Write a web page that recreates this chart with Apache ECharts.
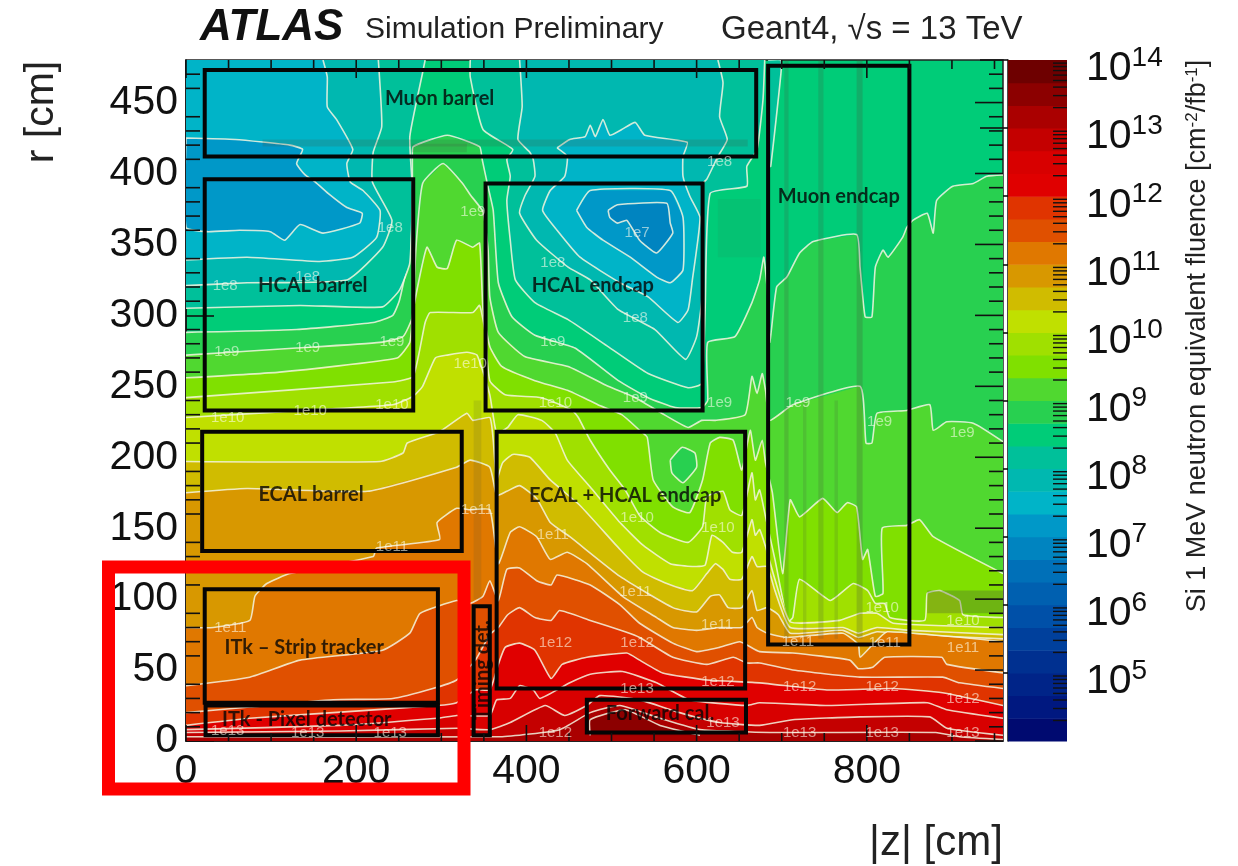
<!DOCTYPE html>
<html>
<head>
<meta charset="utf-8">
<style>html,body{margin:0;padding:0;background:#fff}#chart{width:1238px;height:866px}</style>
<script src="https://cdn.jsdelivr.net/npm/echarts@6/dist/echarts.min.js"></script>
</head>
<body>
<div id="chart"></div>
<script>
// ---------- axis values ----------
const zMajorTicks = [0, 200, 400, 600, 800];
const zMinorTicks = [50, 100, 150, 250, 300, 350, 450, 500, 550, 650, 700, 750, 850, 900, 950];
const rMajorTicks = [0, 50, 100, 150, 200, 250, 300, 350, 400, 450];
const rMinorTicks = [10,20,30,40,60,70,80,90,110,120,130,140,160,170,180,190,210,220,230,240,260,270,280,290,310,320,330,340,360,370,380,390,410,420,430,440,460,470];
const fluenceDecades = [1e5,1e6,1e7,1e8,1e9,1e10,1e11,1e12,1e13,1e14];
const fluenceMinorFactors = [2,3,4,5,6,7,8,9];

// ---------- colour scale: 3 bands per decade from 1e4 to 1e14 ----------
const bandColors = ['#000a70','#001880','#002488','#003090','#00409c','#0050a8','#0060b0','#0070b8','#0084c0','#0098c8',
  '#00b4c8','#00b8b0','#00c09a','#00cc78','#28d050','#50d830','#80e000','#a0e000','#c0e000','#d0bc00',
  '#d89800','#e07800','#e05000','#e03400','#e00000','#d80000','#c40000','#aa0000','#8c0000','#6e0000'];

// ---------- fluence contours [|z|, r] : regions at or above the level ----------
const c8_67 = [[0,288],[130,290],[220,295],[243,300],[251,311],[263,346],[266,388],[266,410],[267,419],[307,427],[345,419],[348,410],[354,393],[361,374],[367,323],[383,299],[410,286],[457,277],[508,254],[543,242],[575,235],[606,235],[613,240],[613,281],[645,285],[665,309],[674,325],[679,341],[684,311],[686,281],[694,320],[706,327],[721,344],[737,352],[788,357],[792,334],[798,299],[806,299],[810,334],[819,346],[825,341],[842,355],[847,362],[854,367],[871,372],[878,358],[882,381],[901,391],[925,393],[941,398],[960,399]];
const c9_00 = [[0,272],[130,277],[228,281],[255,285],[266,299],[270,346],[278,393],[302,407],[325,393],[334,385],[349,373],[355,346],[357,313],[367,288],[398,271],[449,264],[496,250],[528,242],[559,231],[590,221],[606,226],[622,226],[657,230],[665,257],[671,245],[677,259],[681,247],[686,226],[713,237],[792,250],[799,210],[806,210],[812,231],[847,233],[874,237],[878,219],[894,225],[925,224],[960,211]];
const c9_33 = [[0,256],[110,260],[248,270],[263,281],[267,304],[283,348],[295,334],[307,333],[318,353],[337,348],[345,351],[349,304],[357,278],[371,264],[410,254],[449,247],[484,237],[512,230],[533,219],[542,214],[549,184],[572,165],[592,161],[607,184],[616,210],[627,214],[643,212],[653,191],[663,219],[669,198],[677,212],[681,196],[689,175],[701,118],[710,170],[721,158],[748,171],[765,161],[777,168],[788,165],[795,128],[801,135],[810,102],[819,104],[818,150],[847,152],[862,156],[878,144],[960,118]];
const c9_67 = [[0,242],[243,253],[267,257],[281,295],[287,302],[337,302],[345,307],[351,290],[357,254],[375,244],[418,242],[454,233],[461,228],[475,212],[498,191],[516,177],[533,159],[557,147],[590,140],[607,151],[612,172],[631,176],[639,163],[653,159],[665,189],[669,170],[674,177],[681,158],[692,128],[707,84],[713,87],[721,114],[757,99],[784,111],[801,106],[810,97],[821,97],[827,87],[868,85],[871,104],[886,106],[909,99],[913,89],[960,87]];
const c10_00 = [[0,228],[110,232],[243,237],[267,243],[278,250],[293,270],[307,272],[330,274],[342,272],[357,244],[365,217],[378,221],[390,230],[418,226],[434,217],[448,198],[475,179],[510,154],[537,138],[569,125],[595,123],[610,124],[618,145],[631,140],[642,133],[653,133],[665,156],[669,145],[674,149],[681,137],[692,114],[710,84],[768,85],[792,90],[812,90],[831,83],[960,80]];
const c10_33 = [[0,197],[228,197],[255,203],[260,210],[298,218],[330,231],[337,226],[357,228],[361,212],[365,184],[372,196],[384,202],[404,200],[428,184],[463,166],[510,135],[537,119],[565,111],[595,106],[612,118],[622,125],[631,121],[639,114],[653,114],[665,130],[671,123],[683,123],[692,106],[710,80],[772,80],[790,76],[812,80],[851,78],[960,75]];
const c10_67 = [[0,175],[72,178],[213,176],[318,193],[334,198],[357,193],[365,173],[377,176],[392,180],[412,171],[428,154],[451,144],[510,116],[572,94],[600,91],[616,102],[627,103],[637,94],[653,94],[665,106],[671,92],[683,94],[696,89],[710,76],[772,78],[790,73],[812,77],[851,75],[960,72]];
const c11_00 = [[0,80],[32,80],[75,85],[81,102],[95,111],[122,118],[220,130],[224,136],[298,142],[295,154],[318,164],[334,163],[357,163],[367,125],[381,147],[392,151],[412,144],[428,128],[448,133],[471,125],[513,102],[553,87],[572,80],[600,78],[627,80],[653,80],[665,87],[671,80],[683,76],[706,73],[772,76],[790,68],[792,59],[807,68],[824,77],[960,70]];
const c11_33 = [[0,39],[75,45],[134,57],[231,64],[263,76],[275,90],[318,99],[334,97],[349,102],[357,113],[367,99],[377,121],[392,122],[412,113],[429,110],[436,117],[475,110],[510,96],[533,83],[572,69],[600,63],[627,66],[651,70],[674,63],[713,62],[780,57],[790,51],[807,52],[821,59],[888,59],[894,54],[960,48]];
const c11_67 = [[0,20],[75,24],[173,29],[243,30],[290,37],[318,43],[340,57],[357,75],[367,80],[378,89],[392,94],[410,87],[429,85],[439,92],[475,85],[516,77],[533,73],[572,59],[612,54],[643,59],[659,55],[674,55],[713,50],[792,45],[889,45],[909,41],[960,37]];
const c12_00 = [[0,11],[75,16],[173,20],[295,25],[318,27],[340,36],[357,36],[367,54],[375,66],[392,69],[410,64],[429,44],[442,54],[471,59],[518,62],[533,57],[560,48],[612,43],[674,41],[753,36],[831,37],[889,34],[960,25]];
const c12_33 = [[0,8],[181,11],[295,16],[318,18],[357,18],[365,29],[381,30],[392,39],[408,36],[416,30],[451,41],[475,47],[513,49],[553,41],[592,29],[659,25],[674,27],[753,25],[871,27],[894,22],[960,16]];
const c12_67 = [[0,6],[181,7],[318,9],[357,8],[381,13],[422,25],[445,18],[471,25],[486,32],[533,29],[580,20],[627,13],[674,11],[713,15],[792,17],[874,17],[894,9],[960,4]];
const c13_00 = [[0,3],[369,3],[439,8],[475,20],[510,25],[557,16],[604,8],[686,6],[881,6],[909,3],[960,1]];
const c13_33 = [[475,4],[475,15],[516,22],[557,11],[604,4]];

// ---------- fluence contours [|z|, r] : regions at or below the level ----------
const low8_33a = [[281,480],[278,471],[263,426],[266,388],[263,337],[251,318],[231,306],[134,307],[0,305]];
const low8_33b = [[334,480],[334,468],[349,431],[384,417],[377,410],[381,398],[377,381],[381,353],[387,325],[410,309],[449,297],[496,278],[543,259],[590,249],[606,252],[610,304],[616,386],[659,391],[659,405],[671,417],[678,452],[680,480]];
const low8_33c = [[684,405],[687,405],[699,470],[699,480],[684,480]];
const low8_00a = [[226,480],[230,433],[220,415],[219,394],[242,367],[231,348],[189,325],[72,323],[0,321]];
const low8_00b = [[392,480],[395,447],[390,424],[404,415],[408,410],[410,398],[398,384],[392,372],[412,353],[449,334],[475,325],[508,304],[551,290],[587,269],[600,285],[606,311],[607,393],[612,396],[625,412],[636,424],[627,440],[631,464],[625,480]];
const low7_67a = [[161,480],[166,468],[166,447],[177,438],[196,417],[189,407],[193,394],[208,388],[228,374],[224,355],[196,341],[157,338],[72,341],[0,339]];
const low7_67b = [[436,418],[451,424],[469,426],[475,434],[481,426],[490,438],[498,427],[512,431],[528,436],[539,427],[589,422],[584,412],[584,398],[592,384],[604,369],[595,325],[590,304],[578,295],[543,313],[510,323],[463,341],[436,360],[419,374],[428,388],[445,398],[448,412]];
const low7_33a = [[0,425],[58,424],[122,420],[137,417],[130,407],[140,399],[152,394],[167,386],[189,376],[207,372],[204,365],[161,358],[134,364],[116,353],[99,359],[63,360],[25,359],[0,362]];
const low7_33b = [[459,374],[475,388],[569,388],[584,369],[584,332],[569,323],[553,327],[522,341],[490,353],[471,362]];
const low7_00 = [[496,374],[507,378],[565,379],[569,365],[572,358],[553,344],[533,353],[518,367],[507,365],[498,369]];
const low9_00 = [[569,198],[583,207],[598,203],[600,193],[584,182],[571,189]];

// ---------- material shadows [z0, r0, z1, r1, strength] ----------
const shadeBands = [[703,72,708,480,0.2],[743,72,749,480,0.2],[788,72,795,480,0.24],[90,419,660,424,0.2],[338,100,347,240,0.14],[265,415,330,421,0.18],
  [725,72,729,240,0.16],[762,72,766,240,0.16],[871,90,960,106,0.3],[625,341,675,382,0.08]];

// ---------- detector boxes [z0, r0, z1, r1] ----------
const muonBarrelBox = [22,412,670,473];
const hcalBarrelBox = [22,233,267,396];
const hcalEndcapBox = [352,233,607,393];
const muonEndcapBox = [684,68,850,476];
const ecalBarrelBox = [19,134,324,218];
const ecalEndcapBox = [365,37,657,218];
const stripBox = [22,27,296,107];
const pixelBox = [23,4,296,25];
const timingBox = [338,4,357,95];
const forwardBox = [471,6,658,29];

// ---------- text on the plot ----------
const boxNames = [['Muon barrel',298,453],['HCAL barrel',149,321],['HCAL endcap',478,321],['Muon endcap',767,384],['ECAL barrel',147,174],['ECAL + HCAL endcap',516,173],['ITk – Strip tracker',139,66],['ITk - Pixel detector',142,15],['Forward cal.',557,19]];
const timingName = ['Timing det.',349,50];
const contourLabels = [['1e8',46,321],['1e8',240,362],['1e8',143,327],['1e9',337,373],['1e9',48,274],['1e9',143,277],['1e9',242,281],['1e10',49,228],['1e10',146,233],['1e10',242,237],['1e10',334,266],['1e7',530,358],['1e8',431,337],['1e8',528,298],['1e8',627,408],['1e9',431,281],['1e9',528,242],['1e9',627,238],['1e10',434,238],['1e9',719,238],['1e9',815,225],['1e9',912,217],['1e10',530,157],['1e10',625,150],['1e11',242,137],['1e11',342,163],['1e11',52,80],['1e11',431,145],['1e11',528,105],['1e11',624,82],['1e12',434,69],['1e12',530,69],['1e12',625,42],['1e13',530,37],['1e12',434,6],['1e10',818,94],['1e10',913,85],['1e11',719,70],['1e11',821,69],['1e11',913,66],['1e12',721,38],['1e12',818,38],['1e12',913,30],['1e13',721,6],['1e13',818,6],['1e13',913,6],['1e13',631,13],['1e13',49,7],['1e13',143,6],['1e13',240,6]];

// ---------- assembling ----------
const Z_MAX = 960, R_MAX = 480;
const highStack = [[c8_67,14],[c9_00,15],[c9_33,16],[c9_67,17],[c10_00,18],[c10_33,19],[c10_67,20],[c11_00,21],[c11_33,22],[c11_67,23],[c12_00,24],[c12_33,25],[c12_67,26],[c13_00,27],[c13_33,28]];
const lowStack = [
  {pts:low8_33a,band:12,corner:[[0,R_MAX]]},{pts:low8_33b,band:12,corner:[]},{pts:low8_33c,band:12,corner:[]},
  {pts:low8_00a,band:11,corner:[[0,R_MAX]]},{pts:low8_00b,band:11,corner:[]},
  {pts:low7_67a,band:10,corner:[[0,R_MAX]]},{pts:low7_67b,band:10,corner:[],closed:true},
  {pts:low7_33a,band:9,corner:[],closed:true},{pts:low7_33b,band:9,corner:[],closed:true},
  {pts:low7_00,band:8,corner:[],closed:true},{pts:low9_00,band:14,corner:[],closed:true}
];
const regions = highStack.map(function (h) {
  const p = h[0];
  return {pts:p, band:h[1], corner:[[Z_MAX,0],[p===c13_33?475:0,0]]};
}).concat(lowStack);

const WHITE = 'rgba(245,245,225,0.85)';
function regionItem(params, api) {
  const reg = regions[params.dataIndex];
  const line = reg.pts.map(function (p) { return api.coord(p); });
  let fill = line.concat(reg.corner.map(function (p) { return api.coord(p); }));
  if (reg.pts === c13_33) fill = line;
  const kids = [{type:'polygon', shape:{points:fill}, style:{fill:bandColors[reg.band], stroke:null}}];
  kids.push({type:'polyline', shape:{points:reg.closed ? line.concat([line[0]]) : line, smooth:0.15},
    style:{fill:null, stroke:WHITE, lineWidth:1.6}});
  return {type:'group', children:kids};
}
function rectOf(api, b) {
  const a = api.coord([b[0], b[3]]), c = api.coord([b[2], b[1]]);
  return {x:a[0], y:a[1], width:c[0]-a[0], height:c[1]-a[1]};
}
const boxes = [muonBarrelBox,hcalBarrelBox,hcalEndcapBox,muonEndcapBox,ecalBarrelBox,ecalEndcapBox,stripBox,pixelBox,timingBox,forwardBox];

const tickList = [];
zMajorTicks.forEach(function (v) { tickList.push(['b',v,16],['t',v,18]); });
zMinorTicks.forEach(function (v) { tickList.push(['b',v,8],['t',v,9]); });
rMajorTicks.forEach(function (v) { tickList.push(['r',v,28]); });
rMinorTicks.forEach(function (v) { tickList.push(['l',v,14],['r',v,14]); });
function tickItem(params, api) {
  const t = tickList[params.dataIndex];
  let p, q;
  if (t[0] === 'b') { p = api.coord([t[1],0]); q = [p[0], p[1]-t[2]]; }
  if (t[0] === 't') { p = api.coord([t[1],R_MAX]); q = [p[0], p[1]+t[2]]; }
  if (t[0] === 'l') { p = api.coord([0,t[1]]); q = [p[0]+t[2], p[1]]; }
  if (t[0] === 'r') { p = api.coord([Z_MAX,t[1]]); q = [p[0]-t[2], p[1]]; }
  return {type:'line', shape:{x1:p[0],y1:p[1],x2:q[0],y2:q[1]}, style:{stroke:'#111',lineWidth:1.6}};
}

const barCells = bandColors.map(function (c, i) { return {lo:Math.pow(10,4+i/3), hi:Math.pow(10,4+(i+1)/3), color:c}; });
function barItem(params, api) {
  const b = barCells[params.dataIndex];
  const a = api.coord([0,b.hi]), c = api.coord([1,b.lo]);
  return {type:'rect', shape:{x:a[0],y:a[1],width:c[0]-a[0],height:c[1]-a[1]+0.5}, style:{fill:b.color}};
}
const barMinor = [];
[1e4,1e5,1e6,1e7,1e8,1e9,1e10,1e11,1e12,1e13].forEach(function (d) {
  fluenceMinorFactors.forEach(function (f) { barMinor.push(d*f); });
});
function barMinorItem(params, api) {
  const p = api.coord([1,barMinor[params.dataIndex]]);
  return {type:'line', shape:{x1:p[0],y1:p[1],x2:p[0]-14,y2:p[1]}, style:{stroke:'#111',lineWidth:1.4}};
}

const SANS = '"Liberation Sans", Arial, sans-serif';
const chart = echarts.init(document.getElementById('chart'), null, {renderer:'canvas'});
chart.setOption({
  animation:false,
  backgroundColor:'#ffffff',
  grid:[
    {left:186, top:60, width:817, height:681, show:true, backgroundColor:bandColors[13], borderColor:'#222', borderWidth:1.5},
    {left:1008, top:60, width:59, height:681, show:false}
  ],
  xAxis:[
    {type:'value', gridIndex:0, min:0, max:Z_MAX, splitLine:{show:false}, axisLine:{show:true,lineStyle:{color:'#111',width:1.5}},
     axisTick:{show:false},
     axisLabel:{customValues:zMajorTicks, fontFamily:SANS, fontSize:41, color:'#111', margin:10, lineHeight:41}},
    {type:'value', gridIndex:1, min:0, max:1, show:false}
  ],
  yAxis:[
    {type:'value', gridIndex:0, min:0, max:R_MAX, splitLine:{show:false}, axisLine:{show:true,lineStyle:{color:'#111',width:1.5}},
     axisTick:{show:true, inside:true, length:28, customValues:rMajorTicks, lineStyle:{color:'#111',width:1.6}},
     axisLabel:{customValues:rMajorTicks, fontFamily:SANS, fontSize:41, color:'#111', margin:8, padding:[6,0,0,0]}},
    {type:'log', gridIndex:1, logBase:10, min:1e4, max:1e14, position:'right', splitLine:{show:false},
     axisLine:{show:true,lineStyle:{color:'#111',width:1.5}},
     axisTick:{show:true, inside:true, length:28, customValues:fluenceDecades, lineStyle:{color:'#111',width:1.6}},
     axisLabel:{customValues:fluenceDecades, margin:19, align:'left', padding:[18,0,0,0],
       formatter:function (v) { return '{b|10}{s|' + Math.round(Math.log10(v)) + '}'; },
       rich:{b:{fontFamily:SANS, fontSize:41, color:'#111'}, s:{fontFamily:SANS, fontSize:28, color:'#111', padding:[0,0,22,0]}}}}
  ],
  series:[
    {type:'custom', name:'fluence', xAxisIndex:0, yAxisIndex:0, z:2, clip:true, silent:true, renderItem:regionItem,
     data:regions.map(function (r) { return r.pts[0]; })},
    {type:'custom', name:'material', xAxisIndex:0, yAxisIndex:0, z:3, clip:true, silent:true,
     renderItem:function (params, api) {
       const b = shadeBands[params.dataIndex];
       return {type:'rect', shape:rectOf(api, b), style:{fill:'rgba(70,80,60,' + b[4] + ')'}};
     }, data:shadeBands.map(function (b) { return [b[0],b[1]]; })},
    {type:'custom', name:'boxes', xAxisIndex:0, yAxisIndex:0, z:4, silent:true,
     renderItem:function (params, api) {
       return {type:'rect', shape:rectOf(api, boxes[params.dataIndex]), style:{fill:null, stroke:'#050505', lineWidth:4}};
     }, data:boxes.map(function (b) { return [b[0],b[1]]; })},
    {type:'custom', name:'ticks', xAxisIndex:0, yAxisIndex:0, z:5, silent:true, renderItem:tickItem,
     data:tickList.map(function (t) { return t[0]==='b'||t[0]==='t' ? [t[1],0] : [0,t[1]]; })},
    {type:'scatter', name:'contour labels', xAxisIndex:0, yAxisIndex:0, z:6, symbolSize:0, silent:true,
     data:contourLabels.map(function (l) { return [l[1],l[2],l[0]]; }),
     label:{show:true, position:'inside', formatter:function (p) { return p.value[2]; },
       fontFamily:SANS, fontSize:15, color:'rgba(255,255,240,0.72)'}},
    {type:'scatter', name:'box labels', xAxisIndex:0, yAxisIndex:0, z:7, symbolSize:0, silent:true,
     data:boxNames.map(function (l) { return [l[1],l[2],l[0]]; }).concat([
       {value:[timingName[1],timingName[2],timingName[0]], label:{rotate:90}}]),
     labelLayout:{hideOverlap:false},
     label:{show:true, position:'inside', formatter:function (p) { return p.value[2]; },
       fontFamily:'Lato, "Open Sans", sans-serif', fontWeight:'bold', fontSize:20, color:'#050505'}},
    {type:'custom', name:'scale', xAxisIndex:1, yAxisIndex:1, z:2, silent:true, renderItem:barItem,
     data:barCells.map(function (b) { return [0,b.lo]; })},
    {type:'custom', name:'scale ticks', xAxisIndex:1, yAxisIndex:1, z:5, silent:true, renderItem:barMinorItem,
     data:barMinor.map(function (v) { return [1,v]; })}
  ],
  graphic:[
    {type:'text', x:200, y:6, z:20, style:{text:'ATLAS', fontFamily:SANS, fontWeight:'bold', fontStyle:'italic', fontSize:44, fill:'#111'}},
    {type:'text', x:365, y:15, z:20, style:{text:'Simulation Preliminary', fontFamily:SANS, fontSize:30, fill:'#222'}},
    {type:'text', x:721, y:13, z:20, style:{text:'Geant4, √s = 13 TeV', fontFamily:SANS, fontSize:33, fill:'#222'}},
    {type:'text', x:42, y:112, z:20, rotation:Math.PI/2, style:{text:'r [cm]', fontFamily:SANS, fontSize:41, fill:'#222', textAlign:'center', textVerticalAlign:'middle'}},
    {type:'text', x:936, y:843, z:20, style:{text:'|z| [cm]', fontFamily:SANS, fontSize:42, fill:'#222', textAlign:'center', textVerticalAlign:'middle'}},
    {type:'text', x:1198, y:336, z:20, rotation:Math.PI/2, style:{
       text:'Si 1 MeV neutron equivalent fluence [cm{s|-2}/fb{s|-1}]', fontFamily:SANS, fontSize:27, fill:'#222',
       textAlign:'center', textVerticalAlign:'middle',
       rich:{s:{fontFamily:SANS, fontSize:17, fill:'#222', padding:[0,0,12,0]}}}},
    {type:'rect', z:30, shape:{x:108.5, y:567, width:355.5, height:222}, style:{fill:null, stroke:'#ff0000', lineWidth:13}}
  ]
});
</script>
</body>
</html>
